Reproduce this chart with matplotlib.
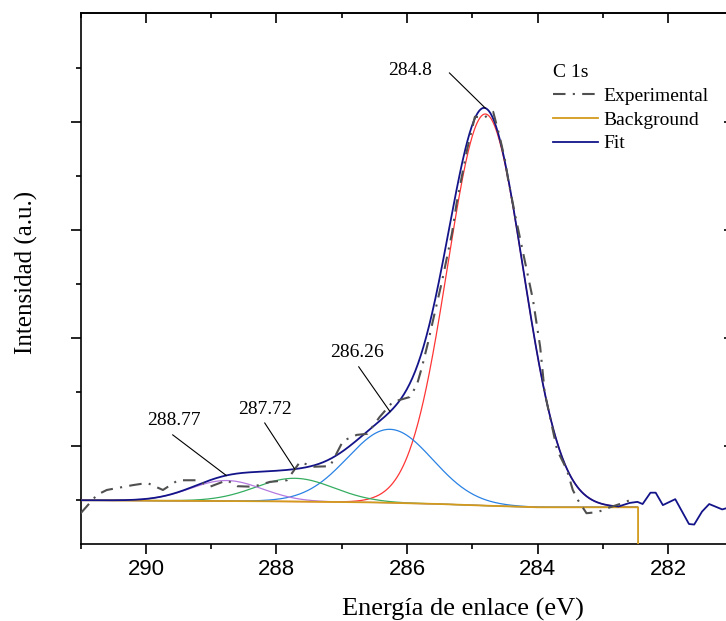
import numpy as np
import matplotlib
matplotlib.use("Agg")
import matplotlib.pyplot as plt
from matplotlib.ticker import MultipleLocator

plt.rcParams['font.family'] = ['Liberation Serif', 'DejaVu Serif']

# measured C 1s spectrum (binding energy eV, intensity a.u.)
exp_be = [291.00, 290.75, 290.60, 290.29, 290.20, 289.98, 289.74, 289.51, 289.22, 289.02,
          288.76, 288.60, 288.36, 288.10, 287.84, 287.64, 287.44, 287.18, 286.98, 286.77,
          286.61, 286.42, 286.22, 285.96, 285.85, 285.77, 285.68, 285.60, 285.47, 285.31,
          285.24, 285.08, 284.96, 284.82, 284.68, 284.58, 284.50, 284.45, 284.35, 284.23,
          284.07, 283.96, 283.89, 283.70, 283.55, 283.46, 283.38, 283.25, 283.08, 282.89,
          282.69, 282.59]
exp_int = [-0.25, 0.09, 0.18, 0.25, 0.27, 0.31, 0.18, 0.36, 0.36, 0.24,
           0.36, 0.25, 0.24, 0.33, 0.36, 0.70, 0.61, 0.62, 1.09, 1.20,
           1.22, 1.53, 1.81, 1.90, 2.12, 2.46, 2.90, 3.33, 4.01, 4.94,
           5.49, 6.48, 7.09, 7.07, 7.18, 6.72, 6.29, 5.92, 5.31, 4.62,
           3.70, 2.83, 1.98, 0.92, 0.55, 0.18, -0.01, -0.25, -0.23, -0.14,
           -0.06, -0.01]

# background (Shirley-type) used in the fit
bg_be = [291.0, 288.0, 286.5, 285.5, 284.8, 284.0, 282.46, 282.46]
bg_int = [-0.01, -0.03, -0.05, -0.08, -0.11, -0.14, -0.14, -0.85]

# fitted components: position, height, sigma
peak_pos = [284.8, 286.26, 287.72, 288.77]
peak_height = [7.25, 1.36, 0.43, 0.38]
peak_sigma = [0.58, 0.65, 0.60, 0.55]
peak_colors = ['#ff3535', '#2a82e4', '#35ad60', '#b57ae0']
peak_labels = ['284.8', '286.26', '287.72', '288.77']

# fit curve beyond the fitted window
tail_be = [282.59, 282.47, 282.39, 282.27, 282.19, 282.08, 281.89, 281.68, 281.60, 281.48, 281.37, 281.17, 281.00]
tail_int = [-0.06, -0.04, -0.08, 0.13, 0.13, -0.10, 0.01, -0.45, -0.46, -0.22, -0.08, -0.18, -0.12]

# where the peak labels sit (text anchor, start of leader line)
lab_xy = [(285.96, 7.87), (286.77, 2.64), (288.18, 1.59), (289.57, 1.38)]
lead_xy = [(285.35, 7.90), (286.74, 2.46), (288.18, 1.42), (289.59, 1.20)]


def gauss(x, c, h, s):
    return h * np.exp(-(x - c) ** 2 / (2 * s ** 2))


x = np.linspace(291.0, 282.47, 800)
bg = np.interp(x, bg_be[::-1][1:], bg_int[::-1][1:])
comps = [gauss(x, c, h, s) for c, h, s in zip(peak_pos, peak_height, peak_sigma)]
fit = bg + np.sum(comps, axis=0)
sel = x >= 282.75

fig = plt.figure(figsize=(7.26, 6.21), dpi=100)
# right frame edge sits just past the figure border
ax = fig.add_axes([80.7 / 726, 77 / 621, 653.3 / 726, 531 / 621])

for g, col in zip(comps, peak_colors):
    ax.plot(x, bg + g, color=col, lw=0.9, zorder=2)

l_bg, = ax.plot(bg_be, bg_int, color='#d39b1c', lw=1.3, zorder=3, label='Background')
fit_x = np.concatenate([x[sel], tail_be])
fit_y = np.concatenate([fit[sel], tail_int])
l_fit, = ax.plot(fit_x, fit_y, color='#14148a', lw=1.3, zorder=4, label='Fit')
l_exp, = ax.plot(exp_be, exp_int, color='#505050', lw=1.5, ls=(0, (6, 3.5, 1, 3.5)),
                 zorder=5, label='Experimental')

# peak labels with leader lines
for i, lab in enumerate(peak_labels):
    c = peak_pos[i]
    tip_y = np.interp(c, x[::-1], fit[::-1])
    ax.plot([lead_xy[i][0], c], [lead_xy[i][1], tip_y], color='black', lw=0.8, zorder=6)
    ax.text(lab_xy[i][0], lab_xy[i][1], lab, ha='center', va='baseline', fontsize=14)

ax.set_xlim(291.0, 280.99)
ax.set_ylim(-0.82, 9.01)

ax.xaxis.set_major_locator(MultipleLocator(2))
ax.xaxis.set_minor_locator(MultipleLocator(1))
ax.yaxis.set_major_locator(plt.FixedLocator([1, 3, 5, 7]))
ax.yaxis.set_minor_locator(plt.FixedLocator([0, 2, 4, 6, 8]))
ax.set_yticklabels([])

ax.tick_params(which='both', direction='out', width=1.2, top=False, right=False)
ax.tick_params(which='major', length=7)
ax.tick_params(which='minor', length=3.8)
ax.tick_params(axis='x', which='major', pad=4, labelsize=16)
for t in ax.get_xticklabels():
    t.set_family('Liberation Sans')

# inward ticks on the top and right edges
top = ax.secondary_xaxis('top')
top.xaxis.set_major_locator(MultipleLocator(2))
top.xaxis.set_minor_locator(MultipleLocator(1))
top.set_xticklabels([])
right = ax.secondary_yaxis('right')
right.yaxis.set_major_locator(plt.FixedLocator([1, 3, 5, 7]))
right.yaxis.set_minor_locator(plt.FixedLocator([0, 2, 4, 6, 8]))
right.set_yticklabels([])
for sec, side in [(top, 'top'), (right, 'right')]:
    sec.tick_params(which='both', direction='in', width=1.2)
    sec.tick_params(which='major', length=7)
    sec.tick_params(which='minor', length=3.8)
    sec.spines[side].set_linewidth(1.2)

for s in ax.spines.values():
    s.set_linewidth(1.2)

ax.set_xlabel('Energía de enlace (eV)', fontsize=19)
ax.xaxis.set_label_coords((463 - 80.7) / 653.3, -0.101)
ax.set_ylabel('Intensidad (a.u.)', fontsize=18)
ax.yaxis.set_label_coords(-0.066, 0.512)

leg = ax.legend(handles=[l_exp, l_bg, l_fit], title='C 1s', loc='upper left',
                bbox_to_anchor=((553 - 80.7) / 653.3, 0.904), frameon=False, fontsize=14,
                title_fontsize=14, handlelength=2.3, handletextpad=0.3, labelspacing=0.32,
                borderpad=0, borderaxespad=0, alignment='left')

fig.savefig('out.png', dpi=100)
